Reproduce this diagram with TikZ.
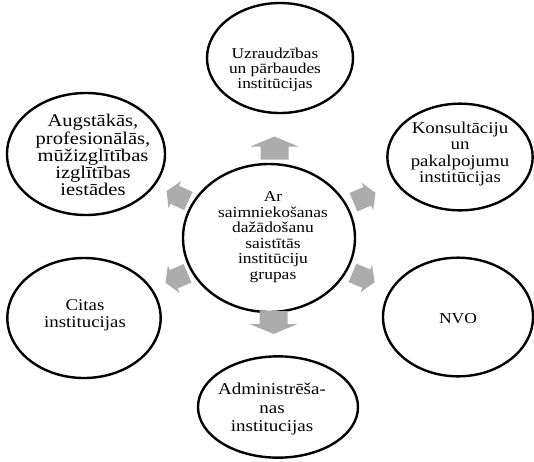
\documentclass[tikz,border=0pt]{standalone}
\usepackage{fontspec}
\setmainfont{Liberation Serif}[FakeStretch = 1.15]
\usetikzlibrary{shapes.geometric,calc}

\definecolor{arrowgray}{RGB}{172,172,172}
\tikzset{
    uparrow/.pic = {\fill[arrowgray] (-11.5,-14) -- (1.5,-14) -- (1.5,-24) -- (11.5,0) -- (1.5,24) -- (1.5,14) -- (-11.5,14) -- cycle;},
    sidearrow/.pic = {\fill[arrowgray] (-12,-10) -- (3,-10) -- (3,-15) -- (12,0) -- (3,15) -- (3,10) -- (-12,10) -- cycle;}
}

\begin{document}
\begin{tikzpicture}[x = .75pt, y = -.75pt,
    oval/.style = {draw, ellipse, line width = 1.8pt, inner sep = 0pt},
    txt/.style 2 args = {align = center, inner sep = 0pt, font = \fontsize{#1}{#2}\selectfont}]
    \useasboundingbox (0,0) rectangle (534,461);
    % ellipses
    \node[oval, minimum width = 129pt, minimum height = 111pt] (grupa) at (269,238) {};
    \node[oval, minimum width = 109.5pt, minimum height = 82.5pt] (uzr) at (280,58) {};
    \node[oval, minimum width = 118.5pt, minimum height = 91.5pt] (augst) at (86,154) {};
    \node[oval, minimum width = 109pt, minimum height = 80pt] (kons) at (460,157) {};
    \node[oval, minimum width = 115pt, minimum height = 90pt] (citas) at (84,318) {};
    \node[oval, minimum width = 112.5pt, minimum height = 89pt] (nvo) at (458,317) {};
    \node[oval, minimum width = 120pt, minimum height = 76pt] (admin) at (278,407) {};
    % texts
    \node[txt = {11.4}{11.6}] (grupa-t) at (273,237) {Ar\\saimniekošanas\\dažādošanu\\saistītās\\institūciju\\grupas};
    \node[txt = {11.3}{11}] (uzr-t) at (275,70) {Uzraudzības\\un pārbaudes\\institūcijas};
    \node[txt = {13.4}{12.8}] (augst-t) at (93,155) {Augstākās,\\profesionālās,\\mūžizglītības\\izglītības\\iestādes};
    \node[txt = {12.3}{12.3}] (kons-t) at (460,154) {Konsultāciju\\un\\pakalpojumu\\institūcijas};
    \node[txt = {12.3}{12.75}] (citas-t) at (85,315) {Citas\\institucijas};
    \node[txt = {11.4}{12}] (nvo-t) at (458,319) {NVO};
    \node[txt = {12.4}{14}] (admin-t) at (272,409) {Administrēša-\\nas\\institucijas};
    % arrows
    \pic[rotate = 90] (a-uzr) at ($(grupa)!.5!(uzr)$) {uparrow};
    \pic[rotate = -90] (a-admin) at ($(grupa)!.5!(admin)$) {uparrow};
    \pic[rotate = 155] (a-augst) at ($(grupa)!.5!(augst)$) {sidearrow};
    \pic[rotate = 23] (a-kons) at ($(grupa)!.5!(kons)$) {sidearrow};
    \pic[rotate = 203] (a-citas) at ($(grupa)!.5!(citas)$) {sidearrow};
    \pic[rotate = -23] (a-nvo) at ($(grupa)!.5!(nvo)$) {sidearrow};
\end{tikzpicture}
\end{document}
